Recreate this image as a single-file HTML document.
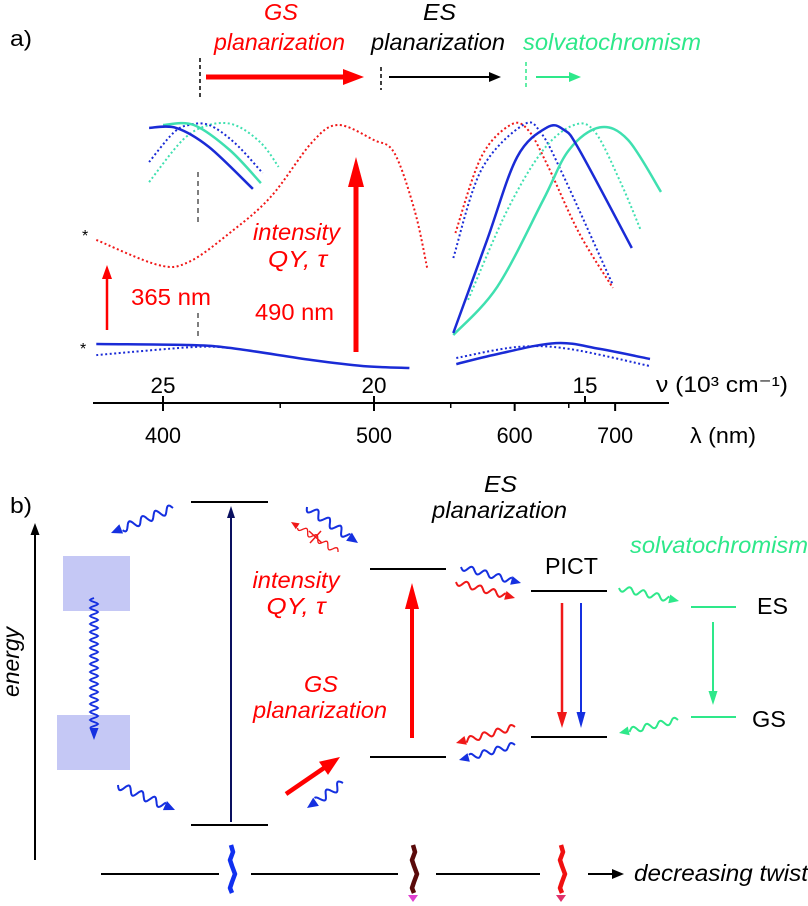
<!DOCTYPE html>
<html><head><meta charset="utf-8">
<style>
html,body{margin:0;padding:0;background:#fff;}
svg{display:block;font-family:"Liberation Sans",sans-serif;}
.it{font-style:italic;}
</style></head>
<body>
<svg id="fig" width="808" height="906" viewBox="0 0 808 906" xmlns="http://www.w3.org/2000/svg">
<text x="10" y="46" font-size="22" textLength="22" lengthAdjust="spacingAndGlyphs">a)</text>
<text class="it" x="264" y="20" font-size="23" fill="#f00" textLength="34" lengthAdjust="spacingAndGlyphs">GS</text>
<text class="it" x="214" y="50" font-size="23" fill="#f00" textLength="131" lengthAdjust="spacingAndGlyphs">planarization</text>
<text class="it" x="423" y="20" font-size="23" textLength="33" lengthAdjust="spacingAndGlyphs">ES</text>
<text class="it" x="371" y="50" font-size="23" textLength="134" lengthAdjust="spacingAndGlyphs">planarization</text>
<text class="it" x="523" y="50" font-size="23" fill="#2ee88a" textLength="178" lengthAdjust="spacingAndGlyphs">solvatochromism</text>
<line x1="200" y1="58" x2="200" y2="97" stroke="#000" stroke-width="1.5" stroke-dasharray="4,3"/>
<line x1="381" y1="67" x2="381" y2="90" stroke="#000" stroke-width="1.5" stroke-dasharray="4,3"/>
<line x1="526" y1="62" x2="526" y2="87" stroke="#2ee88a" stroke-width="1.5" stroke-dasharray="4,3"/>
<line x1="206" y1="77" x2="345" y2="77" stroke="#f00" stroke-width="5"/>
<path d="M343,69 L364,77 L343,85 Z" fill="#f00"/>
<line x1="389" y1="77" x2="492" y2="77" stroke="#000" stroke-width="2"/>
<path d="M489,72 L501,77 L489,82 Z" fill="#000"/>
<line x1="536" y1="77" x2="572" y2="77" stroke="#2ee88a" stroke-width="2"/>
<path d="M569,72 L581,77 L569,82 Z" fill="#2ee88a"/>
<g id="plot"></g>
<g id="diag"></g>
</svg>
<script>
const redAbsNu = [26.58,25.12,24.39,23.42,22.45,21.48,20.86,20.01,19.52,19.04,18.74];
const redAbsI  = [0.531,0.429,0.441,0.559,0.706,0.927,1.0,0.939,0.886,0.653,0.416];
const blueAbsNu = [26.58,24.39,23.42,21.48,20.25,19.16];
const blueAbsI  = [0.106,0.102,0.09,0.041,0.016,0.008];
const blueAbsDotNu = [26.58,24.27,23.42];
const blueAbsDotI  = [0.061,0.094,0.09];
const exBlueNu = [25.33,24.69,23.91,22.87];
const exBlueI  = [0.988,0.988,0.91,0.739];
const exTealNu = [25.0,24.27,23.42,22.68];
const exTealI  = [1.0,1.0,0.898,0.763];
const exBlueDotNu = [25.33,24.76,24.39,23.91,23.30,22.64];
const exBlueDotI  = [0.849,0.967,1.0,1.0,0.927,0.804];
const exTealDotNu = [25.33,24.53,23.91,23.30,22.68,22.26];
const exTealDotI  = [0.767,0.939,1.0,1.0,0.927,0.829];
const emRedDotNu = [18.07,17.46,16.77,16.35,15.87,15.14,14.34];
const emRedDotI  = [0.559,0.869,1.0,0.98,0.829,0.559,0.335];
const emBlueDotNu = [18.12,17.46,16.47,16.04,15.50,14.34];
const emBlueDotI  = [0.457,0.816,1.0,0.967,0.788,0.347];
const emBlueNu = [18.12,17.32,16.61,15.90,15.50,15.14,13.89];
const emBlueI  = [0.151,0.531,0.869,0.99,0.98,0.90,0.498];
const emTealDotNu = [17.77,16.84,15.99,15.26,14.76,14.15,13.68];
const emTealDotI  = [0.286,0.653,0.898,1.0,0.971,0.763,0.571];
const emTealNu = [18.12,17.08,15.99,15.38,14.65,13.98,13.20];
const emTealI  = [0.143,0.339,0.694,0.898,0.99,0.939,0.727];
const lowBlueNu = [18.05,17.08,15.69,14.65,13.46];
const lowBlueI  = [0.024,0.065,0.11,0.086,0.045];
const lowBlueDotNu = [18.05,16.61,15.38,13.46];
const lowBlueDotI  = [0.049,0.094,0.086,0.016];
const nuTicks = [25,20,15];
const nuTickLabels = ["25","20","15"];
const lamTicks = [400,500,600,700];
const lamTickLabels = ["400","500","600","700"];
const lamMinor = [450,550,650];

const NS="http://www.w3.org/2000/svg";
const xS = nu => 163 + (25 - nu) * 42.2;
const yS = v => 370 - v * 245;
const plot = document.getElementById('plot');
function mk(tag, attrs, parent){const e=document.createElementNS(NS,tag);for(const k in attrs)e.setAttribute(k,attrs[k]);parent.appendChild(e);return e;}
function smooth(pts){
  let d=`M${pts[0][0].toFixed(1)},${pts[0][1].toFixed(1)}`;
  for(let i=0;i<pts.length-1;i++){
    const p0=pts[i-1]||pts[i],p1=pts[i],p2=pts[i+1],p3=pts[i+2]||p2;
    const c1=[p1[0]+(p2[0]-p0[0])/6,p1[1]+(p2[1]-p0[1])/6];
    const c2=[p2[0]-(p3[0]-p1[0])/6,p2[1]-(p3[1]-p1[1])/6];
    d+=` C${c1[0].toFixed(1)},${c1[1].toFixed(1)} ${c2[0].toFixed(1)},${c2[1].toFixed(1)} ${p2[0].toFixed(1)},${p2[1].toFixed(1)}`;
  }
  return d;
}
function series(nu,I,color,dotted,name){
  const pts=nu.map((n,i)=>[xS(n),yS(I[i])]);
  const p=mk('path',{d:smooth(pts),fill:'none',stroke:color,'stroke-width':dotted?2:2.5,'stroke-dasharray':dotted?'2,2.5':'none'},plot);
  
  
}
const BL='#1a2bd6', TE='#3fe0b0', RD='#f01818';
series(redAbsNu,redAbsI,RD,true,'red-absorption-dotted');
series(blueAbsNu,blueAbsI,BL,false,'blue-absorption-solid');
series(blueAbsDotNu,blueAbsDotI,BL,true,'blue-absorption-dotted');
series(exTealDotNu,exTealDotI,TE,true,'teal-excitation-dotted');
series(exBlueDotNu,exBlueDotI,BL,true,'blue-excitation-dotted');
series(exTealNu,exTealI,TE,false,'teal-excitation-solid');
series(exBlueNu,exBlueI,BL,false,'blue-excitation-solid');
series(emRedDotNu,emRedDotI,RD,true,'red-emission-dotted');
series(emBlueDotNu,emBlueDotI,BL,true,'blue-emission-dotted');
series(emTealDotNu,emTealDotI,TE,true,'teal-emission-dotted');
series(emTealNu,emTealI,TE,false,'teal-emission-solid');
series(emBlueNu,emBlueI,BL,false,'blue-emission-solid');
series(lowBlueNu,lowBlueI,BL,false,'blue-low-emission-solid');
series(lowBlueDotNu,lowBlueDotI,BL,true,'blue-low-emission-dotted');

let ax=mk('line',{x1:93,y1:403,x2:669,y2:403,stroke:'#000','stroke-width':2},plot);


nuTicks.forEach((n,i)=>{
  const t=mk('line',{x1:xS(n),y1:396,x2:xS(n),y2:403,stroke:'#000','stroke-width':2},plot);
  
  
  const l=mk('text',{x:xS(n),y:393,'font-size':22,'text-anchor':'middle',textLength:25,lengthAdjust:'spacingAndGlyphs'},plot);
  l.textContent=nuTickLabels[i];
  
  
});
lamTicks.forEach((w,i)=>{
  const x=xS(1e4/w);
  const t=mk('line',{x1:x,y1:403,x2:x,y2:411,stroke:'#000','stroke-width':2},plot);
  
  
  const l=mk('text',{x:x,y:443,'font-size':22,'text-anchor':'middle',textLength:36,lengthAdjust:'spacingAndGlyphs'},plot);
  l.textContent=lamTickLabels[i];
  
  
});
lamMinor.forEach(w=>{
  const x=xS(1e4/w);
  const t=mk('line',{x1:x,y1:403,x2:x,y2:408,stroke:'#000','stroke-width':1.5},plot);
  
  
});
</script>
<script>
const g=document.getElementById('plot');
const d=document.getElementById('diag');
const N2="http://www.w3.org/2000/svg";
function el(tag,a,p){const e=document.createElementNS(N2,tag);for(const k in a)e.setAttribute(k,a[k]);p.appendChild(e);return e;}
function txt(p,x,y,s,size,fill,it,anchor,len){const t=el('text',{x:x,y:y,'font-size':size,fill:fill||'#000','text-anchor':anchor||'start'},p);if(it)t.setAttribute('font-style','italic');if(len){t.setAttribute('textLength',len);t.setAttribute('lengthAdjust','spacingAndGlyphs');}t.textContent=s;return t;}
function arrow(p,x1,y1,x2,y2,c,w,hl,hw){
  const dx=x2-x1,dy=y2-y1,L=Math.hypot(dx,dy),ux=dx/L,uy=dy/L;
  const bx=x2-ux*hl,by=y2-uy*hl;
  el('line',{x1:x1,y1:y1,x2:bx+ux*1,y2:by+uy*1,stroke:c,'stroke-width':w},p);
  el('path',{d:`M${x2},${y2} L${bx-uy*hw},${by+ux*hw} L${bx+uy*hw},${by-ux*hw} Z`,fill:c},p);
}
function wavy(p,x1,y1,x2,y2,c,amp,wl,w,hl,hw){
  const dx=x2-x1,dy=y2-y1,L=Math.hypot(dx,dy),ux=dx/L,uy=dy/L;
  const bl=L-hl; let s='';
  for(let t=0;t<=bl;t+=1){const o=amp*Math.sin(2*Math.PI*t/wl);s+=(t?' L':'M')+(x1+ux*t-uy*o).toFixed(1)+','+(y1+uy*t+ux*o).toFixed(1);}
  el('path',{d:s,fill:'none',stroke:c,'stroke-width':w},p);
  const bx=x2-ux*hl,by=y2-uy*hl;
  el('path',{d:`M${x2},${y2} L${bx-uy*hw},${by+ux*hw} L${bx+uy*hw},${by-ux*hw} Z`,fill:c},p);
}
let a;
a=el('g',{},g);
el('line',{x1:198,y1:172,x2:198,y2:225,stroke:'#555','stroke-width':1.5,'stroke-dasharray':'5,4'},a);
el('line',{x1:198,y1:313,x2:198,y2:337,stroke:'#555','stroke-width':1.5,'stroke-dasharray':'5,4'},a);
a=el('g',{},g);
arrow(a,107,330,107,265,'#f00',2.5,14,5);
a=el('g',{},g);
arrow(a,356,352,356,157,'#f00',5,30,8);
a=txt(g,82,241,'*',16);
a=txt(g,80,354,'*',16);
a=txt(g,253,240,'intensity',23,'#f00',true,'start',87);
a=txt(g,268,267,'QY, τ',23,'#f00',true,'start',59);
a=txt(g,131,305,'365 nm',23,'#f00',false,'start',80);
a=txt(g,255,320,'490 nm',23,'#f00',false,'start',79);
a=txt(g,656,392,'ν (10³ cm⁻¹)',22,'#000',false,'start',132);
a=txt(g,690,443,'λ (nm)',22,'#000',false,'start',66);

a=txt(d,10,513,'b)',22,'#000',false,'start',22);
a=el('g',{},d);
arrow(a,35,860,35,523,'#000',2,12,4.5);
a=el('text',{x:0,y:0,'font-size':23,'font-style':'italic','text-anchor':'middle',textLength:70,lengthAdjust:'spacingAndGlyphs',transform:'translate(19,662) rotate(-90)'},d);a.textContent='energy';

a=el('rect',{x:63,y:556,width:67,height:55,fill:'#c5c8f5'},d);
a=el('rect',{x:57,y:715,width:73,height:55,fill:'#c5c8f5'},d);
function level(x1,x2,y,c,name){const l=el('line',{x1:x1,y1:y,x2:x2,y2:y,stroke:c,'stroke-width':2},d);}
level(191,268,502,'#000','twisted-es-level');
level(191,268,825,'#000','twisted-gs-level');
level(370,446,569,'#000','es-level');
level(370,446,757,'#000','gs-level');
level(531,607,591,'#000','pict-es-level');
level(531,607,737,'#000','pict-gs-level');
level(691,736,607,'#2ee88a','solv-es-level');
level(691,736,717,'#2ee88a','solv-gs-level');
a=el('g',{},d);
arrow(a,231,822,231,506,'#0a1060',2,12,4);
a=el('g',{},d);
const B='#1530e0',R='#f01818',G='#2ee88a';
wavy(a,94,598,94,740,B,4,8,1.8,12,4.5);
wavy(a,173,508,111,533,B,4,14,2,11,5);
wavy(a,118,785,175,810,B,4,14,2,11,5);
wavy(a,307,507,358,543,B,4,14,2,11,5);
wavy(a,338,552,291,522,R,3,12,1.3,8,3.5);
el('path',{d:'M309,531 L322,543 M310,543 L321,531',stroke:R,'stroke-width':1.5},a);
wavy(a,461,567,521,583,B,3,14,2,10,4.5);
wavy(a,456,582,515,598,R,3,14,2,10,4.5);
wavy(a,619,588,679,601,G,3,14,2,10,4.5);
wavy(a,515,727,456,743,R,3,14,2,10,4.5);
wavy(a,515,745,459,760,B,3,14,2,10,4.5);
wavy(a,678,720,619,733,G,3,14,2,10,4.5);
wavy(a,343,783,307,808,B,4,14,2,11,5);
arrow(a,286,794,340,757,'#f00',4.5,20,8);
arrow(a,412,738,412,583,'#f00',4,26,7);
arrow(a,562,603,562,728,R,2.5,16,5);
arrow(a,581,603,581,728,B,2,16,4.5);
arrow(a,713,622,713,705,G,2,14,4.5);
a=txt(d,296,588,'intensity',23,'#f00',true,'middle',87);
a=txt(d,296,614,'QY, τ',23,'#f00',true,'middle',59);
a=txt(d,304,692,'GS',23,'#f00',true,'start',34);
a=txt(d,253,718,'planarization',23,'#f00',true,'start',134);
a=txt(d,484,492,'ES',23,'#000',true,'start',33);
a=txt(d,432,518,'planarization',23,'#000',true,'start',135);
a=txt(d,630,553,'solvatochromism',23,'#2ee88a',true,'start',178);
a=txt(d,545,574,'PICT',23,'#000',false,'start',53);
a=txt(d,757,614,'ES',23,'#000',false,'start',31);
a=txt(d,752,727,'GS',23,'#000',false,'start',34);
a=el('g',{},d);
el('line',{x1:101,y1:874,x2:219,y2:874,stroke:'#000','stroke-width':2},a);
el('line',{x1:251,y1:874,x2:398,y2:874,stroke:'#000','stroke-width':2},a);
el('line',{x1:436,y1:874,x2:540,y2:874,stroke:'#000','stroke-width':2},a);
arrow(a,588,874,624,874,'#000',2,12,5);
function mol(x,c,tip,name){
  const m=el('g',{},d);
  el('path',{d:`M${x},845 L${x+2},852 L${x-1},860 L${x+1},866 L${x+4},874 L${x+1},882 L${x-1},888 L${x+1},893`,fill:'none',stroke:c,'stroke-width':4.5,'stroke-linejoin':'round'},m);
  if(tip)el('path',{d:`M${x-5},895 L${x+5},895 L${x},902 Z`,fill:tip},m);
}
mol(231,'#1030f0',null,'twisted-molecule');
mol(413,'#5a0a0a','#e040d0','intermediate-molecule');
mol(561,'#f01010','#e0306a','planar-molecule');
a=txt(d,634,881,'decreasing twist',23,'#000',true,'start',174);
</script>
</body></html>
